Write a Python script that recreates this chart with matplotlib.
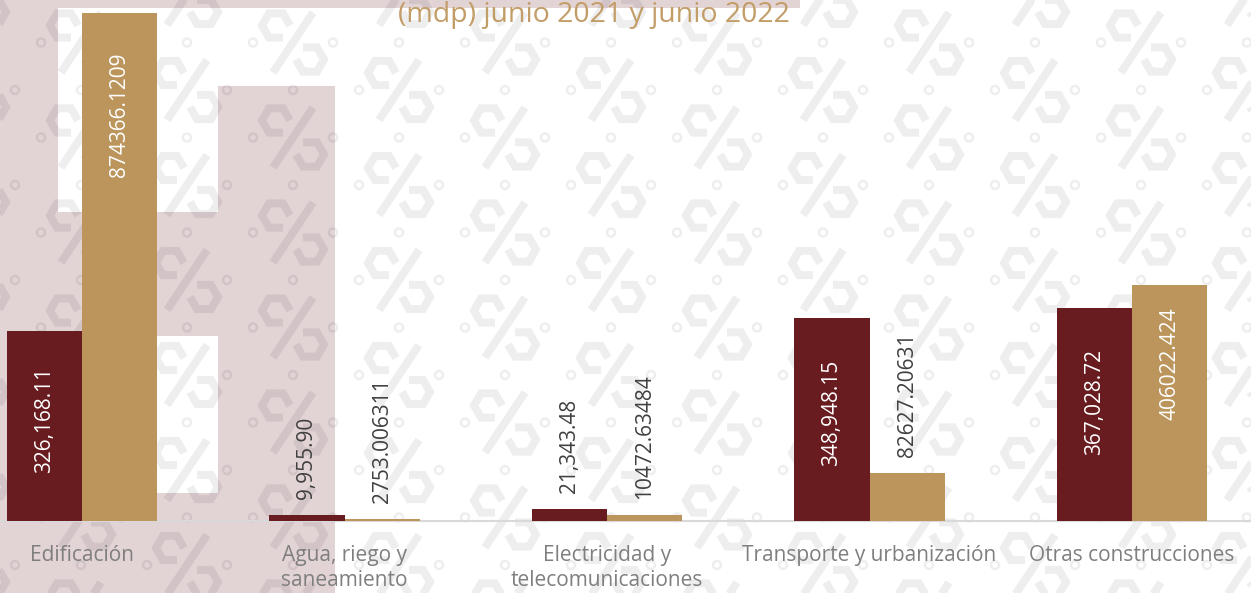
import matplotlib
matplotlib.use("Agg")
import matplotlib.pyplot as plt
from matplotlib.patches import Rectangle, Circle
from matplotlib.lines import Line2D
import numpy as np

# ---------------- data ----------------
categories = ["Edificación", "Agua, riego y\nsaneamiento", "Electricidad y\ntelecomunicaciones",
              "Transporte y urbanización", "Otras construcciones"]
values_2021 = [326168.11, 9955.90, 21343.48, 348948.15, 367028.72]
values_2022 = [874366.1209, 2753.006311, 10472.63484, 82627.20631, 406022.424]
title_text = "(mdp) junio 2021 y junio 2022"

# ---------------- style ----------------
W, H = 1251, 593
DARK = "#691C20"
TAN = "#BC955C"
PINK = "#E2D3D5"
FONT = ["Open Sans", "DejaVu Sans"]
plt.rcParams["font.family"] = FONT

fig = plt.figure(figsize=(W / 100, H / 100), dpi=100)
fig.patch.set_facecolor("white")

# ---------------- watermark background (pixel coordinates) ----------------
bg = fig.add_axes([0, 0, 1, 1], zorder=0)
bg.set_xlim(0, W)
bg.set_ylim(H, 0)
bg.axis("off")

for (rx, ry, rw, rh) in [(0, 0, 58, H), (0, 0, 800, 8), (58, 212, 160, 124),
                         (58, 493, 160, 100), (218, 86, 117, H - 86)]:
    bg.add_patch(Rectangle((rx, ry), rw, rh, facecolor=PINK, edgecolor="none", zorder=0))

pat = (0, 0, 0, 0.065)
lw_pt = 8 * 72 / 100


def hex_pts(cx, cy, r, skip):
    angs = np.deg2rad(np.arange(0, 360, 60))
    verts = [(cx + r * np.cos(a), cy + r * np.sin(a)) for a in angs]
    order = [(skip + 1 + i) % 6 for i in range(6)]
    return [verts[i] for i in order]


def logo(cx, cy):
    for (hx, hy, sk) in [(cx - 17, cy - 17, 0), (cx + 17, cy + 17, 3)]:
        pts = hex_pts(hx, hy, 14, sk)
        bg.add_line(Line2D([p[0] for p in pts], [p[1] for p in pts], color=pat,
                           lw=lw_pt, solid_joinstyle="miter", solid_capstyle="butt", zorder=1))
    bg.add_line(Line2D([cx + 20, cx - 20], [cy - 30, cy + 30], color=pat, lw=lw_pt,
                       solid_capstyle="butt", zorder=1))
    for (ox, oy) in [(-40, 0), (40, 0), (0, 47.5)]:
        bg.add_patch(Circle((cx + ox, cy + oy), 4, fill=False, edgecolor=pat, lw=1.8, zorder=1))


for m in range(-10, 3):
    lx = 1035 + 106 * m
    if lx < -60 or lx > W + 60:
        continue
    for j in range(-2, 8):
        ly = 90 + 95 * j + 47.5 * (m % 2)
        if -60 < ly < H + 60:
            logo(lx, ly)

# ---------------- chart ----------------
ax = fig.add_axes([-49.25 / W, (H - 521) / H, 1312.5 / W, 521 / H], zorder=2)
ax.patch.set_visible(False)
x = np.arange(len(categories))
bw = 0.287
ax.bar(x - bw / 2, values_2021, bw, color=DARK, zorder=3)
ax.bar(x + bw / 2, values_2022, bw, color=TAN, zorder=3)
ax.set_xlim(-0.5, len(categories) - 0.5)
ax.set_ylim(0, 896700)

for s in ["top", "left", "right"]:
    ax.spines[s].set_visible(False)
ax.spines["bottom"].set_color("#D9D9D9")
ax.spines["bottom"].set_linewidth(1.5)
ax.set_yticks([])
ax.set_xticks(x)
ax.set_xticklabels(categories, fontsize=15, color="#7F7F7F", linespacing=1.25)
ax.tick_params(axis="x", length=0, pad=17.5)

# value labels
inside_pad_px = [[35, None, None, 41, 41], [40, None, None, None, 22]]
outside_gap_px = 16
px2pt = 72 / 100
for si, (vals, fmt) in enumerate([(values_2021, lambda v: f"{v:,.2f}"),
                                  (values_2022, lambda v: repr(v))]):
    for ci, v in enumerate(vals):
        xc = x[ci] + (bw / 2 if si else -bw / 2)
        pad = inside_pad_px[si][ci]
        if pad is not None:
            ax.annotate(fmt(v), xy=(xc, v), xytext=(0, -pad * px2pt), textcoords="offset points",
                        rotation=90, ha="center", va="top", fontsize=15, color="white", zorder=5)
        else:
            ax.annotate(fmt(v), xy=(xc, v), xytext=(0, outside_gap_px * px2pt),
                        textcoords="offset points", rotation=90, ha="center", va="bottom",
                        fontsize=15, color="#404040", zorder=5)

fig.text(594 / W, 1 - 22 / H, title_text, ha="center", va="baseline", fontsize=20.5,
         color="#C39D67", zorder=5)

fig.savefig("out.png", dpi=100, facecolor="white")
